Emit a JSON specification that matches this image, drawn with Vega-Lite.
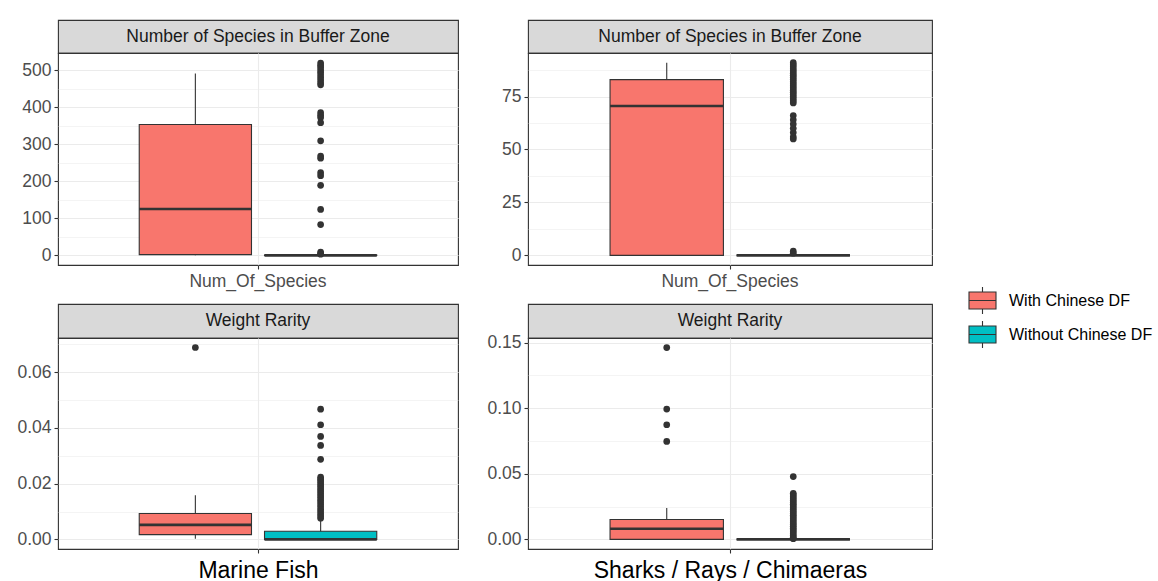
{
"$schema": "https://vega.github.io/schema/vega-lite/v6.json",
"background": "white",
"padding": {"left": 16, "top": 19, "right": 0, "bottom": 0},
"config": {
 "font": "Liberation Sans",
 "view": {"stroke": "#333333", "strokeWidth": 1.1},
 "axis": {"domain": false, "tickColor": "#333333", "tickSize": 4, "tickWidth": 1.1, "labelColor": "#4D4D4D", "labelFontSize": 17.5, "labelPadding": 3, "gridColor": "#EBEBEB", "gridWidth": 1.1, "labelFont": "Liberation Sans", "titleFont": "Liberation Sans"},
 "legend": {"labelFont": "Liberation Sans"}
},
"datasets": {
 "boxes": [
  {"col":"MF","panel":"num","var":"Num_Of_Species","group":"With Chinese DF","lo":0,"q1":2,"med":125,"q3":353,"hi":491},
  {"col":"MF","panel":"num","var":"Num_Of_Species","group":"Without Chinese DF","lo":0,"q1":0,"med":0,"q3":1,"hi":2},
  {"col":"MF","panel":"wr","var":"Weight_Rarity","group":"With Chinese DF","lo":0.0002,"q1":0.0017,"med":0.0052,"q3":0.0093,"hi":0.0158},
  {"col":"MF","panel":"wr","var":"Weight_Rarity","group":"Without Chinese DF","lo":0,"q1":0,"med":0,"q3":0.0029,"hi":0.0068},
  {"col":"SRC","panel":"num","var":"Num_Of_Species","group":"With Chinese DF","lo":0,"q1":0,"med":70.5,"q3":83,"hi":91},
  {"col":"SRC","panel":"num","var":"Num_Of_Species","group":"Without Chinese DF","lo":0,"q1":0,"med":0,"q3":0,"hi":0},
  {"col":"SRC","panel":"wr","var":"Weight_Rarity","group":"With Chinese DF","lo":0,"q1":0,"med":0.0081,"q3":0.0152,"hi":0.024},
  {"col":"SRC","panel":"wr","var":"Weight_Rarity","group":"Without Chinese DF","lo":0,"q1":0,"med":0,"q3":0,"hi":0}
 ],
 "outliers": [
  {"col":"MF","panel":"num","var":"Num_Of_Species","group":"Without Chinese DF","value":519},
  {"col":"MF","panel":"num","var":"Num_Of_Species","group":"Without Chinese DF","value":513},
  {"col":"MF","panel":"num","var":"Num_Of_Species","group":"Without Chinese DF","value":507},
  {"col":"MF","panel":"num","var":"Num_Of_Species","group":"Without Chinese DF","value":500},
  {"col":"MF","panel":"num","var":"Num_Of_Species","group":"Without Chinese DF","value":494},
  {"col":"MF","panel":"num","var":"Num_Of_Species","group":"Without Chinese DF","value":487},
  {"col":"MF","panel":"num","var":"Num_Of_Species","group":"Without Chinese DF","value":480},
  {"col":"MF","panel":"num","var":"Num_Of_Species","group":"Without Chinese DF","value":473},
  {"col":"MF","panel":"num","var":"Num_Of_Species","group":"Without Chinese DF","value":466},
  {"col":"MF","panel":"num","var":"Num_Of_Species","group":"Without Chinese DF","value":460},
  {"col":"MF","panel":"num","var":"Num_Of_Species","group":"Without Chinese DF","value":385},
  {"col":"MF","panel":"num","var":"Num_Of_Species","group":"Without Chinese DF","value":378},
  {"col":"MF","panel":"num","var":"Num_Of_Species","group":"Without Chinese DF","value":372},
  {"col":"MF","panel":"num","var":"Num_Of_Species","group":"Without Chinese DF","value":358},
  {"col":"MF","panel":"num","var":"Num_Of_Species","group":"Without Chinese DF","value":309},
  {"col":"MF","panel":"num","var":"Num_Of_Species","group":"Without Chinese DF","value":268},
  {"col":"MF","panel":"num","var":"Num_Of_Species","group":"Without Chinese DF","value":262},
  {"col":"MF","panel":"num","var":"Num_Of_Species","group":"Without Chinese DF","value":223},
  {"col":"MF","panel":"num","var":"Num_Of_Species","group":"Without Chinese DF","value":215},
  {"col":"MF","panel":"num","var":"Num_Of_Species","group":"Without Chinese DF","value":189},
  {"col":"MF","panel":"num","var":"Num_Of_Species","group":"Without Chinese DF","value":124},
  {"col":"MF","panel":"num","var":"Num_Of_Species","group":"Without Chinese DF","value":83},
  {"col":"MF","panel":"num","var":"Num_Of_Species","group":"Without Chinese DF","value":9},
  {"col":"MF","panel":"num","var":"Num_Of_Species","group":"Without Chinese DF","value":5},
  {"col":"MF","panel":"num","var":"Num_Of_Species","group":"Without Chinese DF","value":3},
  {"col":"MF","panel":"wr","var":"Weight_Rarity","group":"With Chinese DF","value":0.0688},
  {"col":"MF","panel":"wr","var":"Weight_Rarity","group":"Without Chinese DF","value":0.0467},
  {"col":"MF","panel":"wr","var":"Weight_Rarity","group":"Without Chinese DF","value":0.0411},
  {"col":"MF","panel":"wr","var":"Weight_Rarity","group":"Without Chinese DF","value":0.0369},
  {"col":"MF","panel":"wr","var":"Weight_Rarity","group":"Without Chinese DF","value":0.0337},
  {"col":"MF","panel":"wr","var":"Weight_Rarity","group":"Without Chinese DF","value":0.0287},
  {"col":"MF","panel":"wr","var":"Weight_Rarity","group":"Without Chinese DF","value":0.0223},
  {"col":"MF","panel":"wr","var":"Weight_Rarity","group":"Without Chinese DF","value":0.0216},
  {"col":"MF","panel":"wr","var":"Weight_Rarity","group":"Without Chinese DF","value":0.0209},
  {"col":"MF","panel":"wr","var":"Weight_Rarity","group":"Without Chinese DF","value":0.0202},
  {"col":"MF","panel":"wr","var":"Weight_Rarity","group":"Without Chinese DF","value":0.0195},
  {"col":"MF","panel":"wr","var":"Weight_Rarity","group":"Without Chinese DF","value":0.0188},
  {"col":"MF","panel":"wr","var":"Weight_Rarity","group":"Without Chinese DF","value":0.0180},
  {"col":"MF","panel":"wr","var":"Weight_Rarity","group":"Without Chinese DF","value":0.0172},
  {"col":"MF","panel":"wr","var":"Weight_Rarity","group":"Without Chinese DF","value":0.0164},
  {"col":"MF","panel":"wr","var":"Weight_Rarity","group":"Without Chinese DF","value":0.0156},
  {"col":"MF","panel":"wr","var":"Weight_Rarity","group":"Without Chinese DF","value":0.0148},
  {"col":"MF","panel":"wr","var":"Weight_Rarity","group":"Without Chinese DF","value":0.0140},
  {"col":"MF","panel":"wr","var":"Weight_Rarity","group":"Without Chinese DF","value":0.0132},
  {"col":"MF","panel":"wr","var":"Weight_Rarity","group":"Without Chinese DF","value":0.0124},
  {"col":"MF","panel":"wr","var":"Weight_Rarity","group":"Without Chinese DF","value":0.0116},
  {"col":"MF","panel":"wr","var":"Weight_Rarity","group":"Without Chinese DF","value":0.0108},
  {"col":"MF","panel":"wr","var":"Weight_Rarity","group":"Without Chinese DF","value":0.0100},
  {"col":"MF","panel":"wr","var":"Weight_Rarity","group":"Without Chinese DF","value":0.0092},
  {"col":"MF","panel":"wr","var":"Weight_Rarity","group":"Without Chinese DF","value":0.0084},
  {"col":"MF","panel":"wr","var":"Weight_Rarity","group":"Without Chinese DF","value":0.0076},
  {"col":"SRC","panel":"num","var":"Num_Of_Species","group":"Without Chinese DF","value":91},
  {"col":"SRC","panel":"num","var":"Num_Of_Species","group":"Without Chinese DF","value":90},
  {"col":"SRC","panel":"num","var":"Num_Of_Species","group":"Without Chinese DF","value":89},
  {"col":"SRC","panel":"num","var":"Num_Of_Species","group":"Without Chinese DF","value":88},
  {"col":"SRC","panel":"num","var":"Num_Of_Species","group":"Without Chinese DF","value":87},
  {"col":"SRC","panel":"num","var":"Num_Of_Species","group":"Without Chinese DF","value":86},
  {"col":"SRC","panel":"num","var":"Num_Of_Species","group":"Without Chinese DF","value":85},
  {"col":"SRC","panel":"num","var":"Num_Of_Species","group":"Without Chinese DF","value":84},
  {"col":"SRC","panel":"num","var":"Num_Of_Species","group":"Without Chinese DF","value":83},
  {"col":"SRC","panel":"num","var":"Num_Of_Species","group":"Without Chinese DF","value":82},
  {"col":"SRC","panel":"num","var":"Num_Of_Species","group":"Without Chinese DF","value":81},
  {"col":"SRC","panel":"num","var":"Num_Of_Species","group":"Without Chinese DF","value":80},
  {"col":"SRC","panel":"num","var":"Num_Of_Species","group":"Without Chinese DF","value":79},
  {"col":"SRC","panel":"num","var":"Num_Of_Species","group":"Without Chinese DF","value":78},
  {"col":"SRC","panel":"num","var":"Num_Of_Species","group":"Without Chinese DF","value":77},
  {"col":"SRC","panel":"num","var":"Num_Of_Species","group":"Without Chinese DF","value":76},
  {"col":"SRC","panel":"num","var":"Num_Of_Species","group":"Without Chinese DF","value":75},
  {"col":"SRC","panel":"num","var":"Num_Of_Species","group":"Without Chinese DF","value":74},
  {"col":"SRC","panel":"num","var":"Num_Of_Species","group":"Without Chinese DF","value":73},
  {"col":"SRC","panel":"num","var":"Num_Of_Species","group":"Without Chinese DF","value":72},
  {"col":"SRC","panel":"num","var":"Num_Of_Species","group":"Without Chinese DF","value":66},
  {"col":"SRC","panel":"num","var":"Num_Of_Species","group":"Without Chinese DF","value":64},
  {"col":"SRC","panel":"num","var":"Num_Of_Species","group":"Without Chinese DF","value":62},
  {"col":"SRC","panel":"num","var":"Num_Of_Species","group":"Without Chinese DF","value":60},
  {"col":"SRC","panel":"num","var":"Num_Of_Species","group":"Without Chinese DF","value":58},
  {"col":"SRC","panel":"num","var":"Num_Of_Species","group":"Without Chinese DF","value":56},
  {"col":"SRC","panel":"num","var":"Num_Of_Species","group":"Without Chinese DF","value":55},
  {"col":"SRC","panel":"num","var":"Num_Of_Species","group":"Without Chinese DF","value":2},
  {"col":"SRC","panel":"num","var":"Num_Of_Species","group":"Without Chinese DF","value":1},
  {"col":"SRC","panel":"wr","var":"Weight_Rarity","group":"With Chinese DF","value":0.1462},
  {"col":"SRC","panel":"wr","var":"Weight_Rarity","group":"With Chinese DF","value":0.0993},
  {"col":"SRC","panel":"wr","var":"Weight_Rarity","group":"With Chinese DF","value":0.0874},
  {"col":"SRC","panel":"wr","var":"Weight_Rarity","group":"With Chinese DF","value":0.0747},
  {"col":"SRC","panel":"wr","var":"Weight_Rarity","group":"Without Chinese DF","value":0.0479},
  {"col":"SRC","panel":"wr","var":"Weight_Rarity","group":"Without Chinese DF","value":0.0352},
  {"col":"SRC","panel":"wr","var":"Weight_Rarity","group":"Without Chinese DF","value":0.0338},
  {"col":"SRC","panel":"wr","var":"Weight_Rarity","group":"Without Chinese DF","value":0.0324},
  {"col":"SRC","panel":"wr","var":"Weight_Rarity","group":"Without Chinese DF","value":0.0310},
  {"col":"SRC","panel":"wr","var":"Weight_Rarity","group":"Without Chinese DF","value":0.0296},
  {"col":"SRC","panel":"wr","var":"Weight_Rarity","group":"Without Chinese DF","value":0.0282},
  {"col":"SRC","panel":"wr","var":"Weight_Rarity","group":"Without Chinese DF","value":0.0268},
  {"col":"SRC","panel":"wr","var":"Weight_Rarity","group":"Without Chinese DF","value":0.0254},
  {"col":"SRC","panel":"wr","var":"Weight_Rarity","group":"Without Chinese DF","value":0.0240},
  {"col":"SRC","panel":"wr","var":"Weight_Rarity","group":"Without Chinese DF","value":0.0226},
  {"col":"SRC","panel":"wr","var":"Weight_Rarity","group":"Without Chinese DF","value":0.0212},
  {"col":"SRC","panel":"wr","var":"Weight_Rarity","group":"Without Chinese DF","value":0.0198},
  {"col":"SRC","panel":"wr","var":"Weight_Rarity","group":"Without Chinese DF","value":0.0184},
  {"col":"SRC","panel":"wr","var":"Weight_Rarity","group":"Without Chinese DF","value":0.0170},
  {"col":"SRC","panel":"wr","var":"Weight_Rarity","group":"Without Chinese DF","value":0.0156},
  {"col":"SRC","panel":"wr","var":"Weight_Rarity","group":"Without Chinese DF","value":0.0142},
  {"col":"SRC","panel":"wr","var":"Weight_Rarity","group":"Without Chinese DF","value":0.0128},
  {"col":"SRC","panel":"wr","var":"Weight_Rarity","group":"Without Chinese DF","value":0.0114},
  {"col":"SRC","panel":"wr","var":"Weight_Rarity","group":"Without Chinese DF","value":0.0100},
  {"col":"SRC","panel":"wr","var":"Weight_Rarity","group":"Without Chinese DF","value":0.0086},
  {"col":"SRC","panel":"wr","var":"Weight_Rarity","group":"Without Chinese DF","value":0.0072},
  {"col":"SRC","panel":"wr","var":"Weight_Rarity","group":"Without Chinese DF","value":0.0058},
  {"col":"SRC","panel":"wr","var":"Weight_Rarity","group":"Without Chinese DF","value":0.0044},
  {"col":"SRC","panel":"wr","var":"Weight_Rarity","group":"Without Chinese DF","value":0.0030},
  {"col":"SRC","panel":"wr","var":"Weight_Rarity","group":"Without Chinese DF","value":0.0016},
  {"col":"SRC","panel":"wr","var":"Weight_Rarity","group":"Without Chinese DF","value":0.0005}
 ]
},
"spacing": 27,
"resolve": {"scale": {"x": "independent", "y": "independent", "xOffset": "independent", "fill": "shared"}},
"hconcat": [
 {
  "spacing": 12,
  "resolve": {"scale": {"x": "independent", "y": "independent", "xOffset": "independent", "fill": "shared"}},
  "vconcat": [
   {
    "spacing": 0,
    "bounds": "flush",
    "resolve": {"scale": {"x": "independent", "y": "independent", "xOffset": "independent", "fill": "shared"}},
    "vconcat": [
     {"width": 400, "height": 33, "data": {"values": [{"label": "Number of Species in Buffer Zone"}]}, "view": {"fill": "#D9D9D9", "stroke": "#333333", "strokeWidth": 1.1}, "mark": {"type": "text", "fontSize": 17.5, "color": "#1A1A1A"}, "encoding": {"text": {"field": "label"}}},
     {
      "width": 400, "height": 212,
      "encoding": {
       "x": {"field": "var", "type": "nominal", "scale": {"paddingOuter": 0.342, "paddingInner": 0}, "axis": {"title": null, "labelAngle": 0, "grid": true}},
       "xOffset": {"field": "group", "type": "nominal", "scale": {"domain": ["With Chinese DF", "Without Chinese DF"], "paddingInner": 0.104, "paddingOuter": 0}},
       "y": {"type": "quantitative", "scale": {"domain": [-26, 546], "nice": false, "zero": false},
          "axis": {"title": null, "values": [0,50,100,150,200,250,300,350,400,450,500], "labelExpr": "datum.value % 100 === 0 ? datum.label : ''",
           "gridWidth": {"condition": {"test": "datum.value % 100 !== 0", "value": 0.55}, "value": 1.1},
           "tickOpacity": {"condition": {"test": "datum.value % 100 !== 0", "value": 0}, "value": 1}}}
      },
      "layer": [
       {"data": {"name": "boxes"}, "transform": [{"filter": "datum.col==='MF' && datum.panel==='num'"}], "mark": {"type": "rule", "color": "#333333", "strokeWidth": 1.1},
        "encoding": {"y": {"field": "lo"}, "y2": {"field": "hi"}}},
       {"data": {"name": "boxes"}, "transform": [{"filter": "datum.col==='MF' && datum.panel==='num'"}], "mark": {"type": "bar", "stroke": "#333333", "strokeWidth": 1.1},
        "encoding": {"y": {"field": "q1"}, "y2": {"field": "q3"},
         "fill": {"field": "group", "type": "nominal", "scale": {"domain": ["With Chinese DF", "Without Chinese DF"], "range": ["#F8766D", "#00BFC4"]},
          "legend": {"title": null, "orient": "none", "legendX": 910, "legendY": 266, "symbolType": "M-1,-0.63H1V0.63H-1Z M-1,0H1 M0,-0.63V-1 M0,0.63V1", "symbolSize": 729, "symbolStrokeColor": "#333333", "symbolStrokeWidth": 1.1, "labelFontSize": 16, "labelColor": "#000000", "rowPadding": 1, "labelOffset": 12}}}},
       {"data": {"name": "boxes"}, "transform": [{"filter": "datum.col==='MF' && datum.panel==='num'"}], "mark": {"type": "bar", "stroke": "#333333", "strokeWidth": 2.6, "fillOpacity": 0},
        "encoding": {"y": {"field": "med"}, "y2": {"field": "med"}}},
       {"data": {"name": "outliers"}, "transform": [{"filter": "datum.col==='MF' && datum.panel==='num'"}], "mark": {"type": "circle", "size": 45, "color": "#333333", "opacity": 1},
        "encoding": {"y": {"field": "value"}}}
      ]
     }
    ]
   },
   {
    "spacing": 0,
    "bounds": "flush",
    "resolve": {"scale": {"x": "independent", "y": "independent", "xOffset": "independent", "fill": "shared"}},
    "vconcat": [
     {"width": 400, "height": 34, "data": {"values": [{"label": "Weight Rarity"}]}, "view": {"fill": "#D9D9D9", "stroke": "#333333", "strokeWidth": 1.1}, "mark": {"type": "text", "fontSize": 17.5, "color": "#1A1A1A"}, "encoding": {"text": {"field": "label"}}},
     {
      "width": 400, "height": 211,
      "encoding": {
       "x": {"field": "var", "type": "nominal", "scale": {"paddingOuter": 0.342, "paddingInner": 0}, "axis": {"title": "Marine Fish", "labels": false, "grid": true, "titleFontSize": 23, "titleFontWeight": "normal", "titleColor": "#000000", "titlePadding": 6}},
       "xOffset": {"field": "group", "type": "nominal", "scale": {"domain": ["With Chinese DF", "Without Chinese DF"], "paddingInner": 0.104, "paddingOuter": 0}},
       "y": {"type": "quantitative", "scale": {"domain": [-0.00344, 0.0722], "nice": false, "zero": false},
          "axis": {"title": null, "values": [0,0.01,0.02,0.03,0.04,0.05,0.06,0.07], "format": ".2f", "labelExpr": "abs(datum.value/0.02 - round(datum.value/0.02)) < 0.01 ? datum.label : ''",
           "gridWidth": {"condition": {"test": "abs(datum.value/0.02 - round(datum.value/0.02)) > 0.01", "value": 0.55}, "value": 1.1},
           "tickOpacity": {"condition": {"test": "abs(datum.value/0.02 - round(datum.value/0.02)) > 0.01", "value": 0}, "value": 1}}}
      },
      "layer": [
       {"data": {"name": "boxes"}, "transform": [{"filter": "datum.col==='MF' && datum.panel==='wr'"}], "mark": {"type": "rule", "color": "#333333", "strokeWidth": 1.1},
        "encoding": {"y": {"field": "lo"}, "y2": {"field": "hi"}}},
       {"data": {"name": "boxes"}, "transform": [{"filter": "datum.col==='MF' && datum.panel==='wr'"}], "mark": {"type": "bar", "stroke": "#333333", "strokeWidth": 1.1},
        "encoding": {"y": {"field": "q1"}, "y2": {"field": "q3"},
         "fill": {"field": "group", "type": "nominal", "scale": {"domain": ["With Chinese DF", "Without Chinese DF"], "range": ["#F8766D", "#00BFC4"]}}}},
       {"data": {"name": "boxes"}, "transform": [{"filter": "datum.col==='MF' && datum.panel==='wr'"}], "mark": {"type": "bar", "stroke": "#333333", "strokeWidth": 2.6, "fillOpacity": 0},
        "encoding": {"y": {"field": "med"}, "y2": {"field": "med"}}},
       {"data": {"name": "outliers"}, "transform": [{"filter": "datum.col==='MF' && datum.panel==='wr'"}], "mark": {"type": "circle", "size": 45, "color": "#333333", "opacity": 1},
        "encoding": {"y": {"field": "value"}}}
      ]
     }
    ]
   }
  ]
 },
 {
  "spacing": 12,
  "resolve": {"scale": {"x": "independent", "y": "independent", "xOffset": "independent", "fill": "shared"}},
  "vconcat": [
   {
    "spacing": 0,
    "bounds": "flush",
    "resolve": {"scale": {"x": "independent", "y": "independent", "xOffset": "independent", "fill": "shared"}},
    "vconcat": [
     {"width": 404, "height": 33, "data": {"values": [{"label": "Number of Species in Buffer Zone"}]}, "view": {"fill": "#D9D9D9", "stroke": "#333333", "strokeWidth": 1.1}, "mark": {"type": "text", "fontSize": 17.5, "color": "#1A1A1A"}, "encoding": {"text": {"field": "label"}}},
     {
      "width": 404, "height": 212,
      "encoding": {
       "x": {"field": "var", "type": "nominal", "scale": {"paddingOuter": 0.342, "paddingInner": 0}, "axis": {"title": null, "labelAngle": 0, "grid": true}},
       "xOffset": {"field": "group", "type": "nominal", "scale": {"domain": ["With Chinese DF", "Without Chinese DF"], "paddingInner": 0.104, "paddingOuter": 0}},
       "y": {"type": "quantitative", "scale": {"domain": [-4.55, 95.55], "nice": false, "zero": false},
          "axis": {"title": null, "values": [0,12.5,25,37.5,50,62.5,75,87.5], "format": "d", "labelExpr": "datum.value % 25 === 0 ? datum.label : ''",
           "gridWidth": {"condition": {"test": "datum.value % 25 !== 0", "value": 0.55}, "value": 1.1},
           "tickOpacity": {"condition": {"test": "datum.value % 25 !== 0", "value": 0}, "value": 1}}}
      },
      "layer": [
       {"data": {"name": "boxes"}, "transform": [{"filter": "datum.col==='SRC' && datum.panel==='num'"}], "mark": {"type": "rule", "color": "#333333", "strokeWidth": 1.1},
        "encoding": {"y": {"field": "lo"}, "y2": {"field": "hi"}}},
       {"data": {"name": "boxes"}, "transform": [{"filter": "datum.col==='SRC' && datum.panel==='num'"}], "mark": {"type": "bar", "stroke": "#333333", "strokeWidth": 1.1},
        "encoding": {"y": {"field": "q1"}, "y2": {"field": "q3"},
         "fill": {"field": "group", "type": "nominal", "scale": {"domain": ["With Chinese DF", "Without Chinese DF"], "range": ["#F8766D", "#00BFC4"]}}}},
       {"data": {"name": "boxes"}, "transform": [{"filter": "datum.col==='SRC' && datum.panel==='num'"}], "mark": {"type": "bar", "stroke": "#333333", "strokeWidth": 2.6, "fillOpacity": 0},
        "encoding": {"y": {"field": "med"}, "y2": {"field": "med"}}},
       {"data": {"name": "outliers"}, "transform": [{"filter": "datum.col==='SRC' && datum.panel==='num'"}], "mark": {"type": "circle", "size": 45, "color": "#333333", "opacity": 1},
        "encoding": {"y": {"field": "value"}}}
      ]
     }
    ]
   },
   {
    "spacing": 0,
    "bounds": "flush",
    "resolve": {"scale": {"x": "independent", "y": "independent", "xOffset": "independent", "fill": "shared"}},
    "vconcat": [
     {"width": 404, "height": 34, "data": {"values": [{"label": "Weight Rarity"}]}, "view": {"fill": "#D9D9D9", "stroke": "#333333", "strokeWidth": 1.1}, "mark": {"type": "text", "fontSize": 17.5, "color": "#1A1A1A"}, "encoding": {"text": {"field": "label"}}},
     {
      "width": 404, "height": 211,
      "encoding": {
       "x": {"field": "var", "type": "nominal", "scale": {"paddingOuter": 0.342, "paddingInner": 0}, "axis": {"title": "Sharks / Rays / Chimaeras", "labels": false, "grid": true, "titleFontSize": 23, "titleFontWeight": "normal", "titleColor": "#000000", "titlePadding": 6}},
       "xOffset": {"field": "group", "type": "nominal", "scale": {"domain": ["With Chinese DF", "Without Chinese DF"], "paddingInner": 0.104, "paddingOuter": 0}},
       "y": {"type": "quantitative", "scale": {"domain": [-0.0073, 0.1535], "nice": false, "zero": false},
          "axis": {"title": null, "values": [0,0.025,0.05,0.075,0.1,0.125,0.15], "format": ".2f", "labelExpr": "abs(datum.value/0.05 - round(datum.value/0.05)) < 0.01 ? datum.label : ''",
           "gridWidth": {"condition": {"test": "abs(datum.value/0.05 - round(datum.value/0.05)) > 0.01", "value": 0.55}, "value": 1.1},
           "tickOpacity": {"condition": {"test": "abs(datum.value/0.05 - round(datum.value/0.05)) > 0.01", "value": 0}, "value": 1}}}
      },
      "layer": [
       {"data": {"name": "boxes"}, "transform": [{"filter": "datum.col==='SRC' && datum.panel==='wr'"}], "mark": {"type": "rule", "color": "#333333", "strokeWidth": 1.1},
        "encoding": {"y": {"field": "lo"}, "y2": {"field": "hi"}}},
       {"data": {"name": "boxes"}, "transform": [{"filter": "datum.col==='SRC' && datum.panel==='wr'"}], "mark": {"type": "bar", "stroke": "#333333", "strokeWidth": 1.1},
        "encoding": {"y": {"field": "q1"}, "y2": {"field": "q3"},
         "fill": {"field": "group", "type": "nominal", "scale": {"domain": ["With Chinese DF", "Without Chinese DF"], "range": ["#F8766D", "#00BFC4"]}}}},
       {"data": {"name": "boxes"}, "transform": [{"filter": "datum.col==='SRC' && datum.panel==='wr'"}], "mark": {"type": "bar", "stroke": "#333333", "strokeWidth": 2.6, "fillOpacity": 0},
        "encoding": {"y": {"field": "med"}, "y2": {"field": "med"}}},
       {"data": {"name": "outliers"}, "transform": [{"filter": "datum.col==='SRC' && datum.panel==='wr'"}], "mark": {"type": "circle", "size": 45, "color": "#333333", "opacity": 1},
        "encoding": {"y": {"field": "value"}}}
      ]
     }
    ]
   }
  ]
 }
]
}
